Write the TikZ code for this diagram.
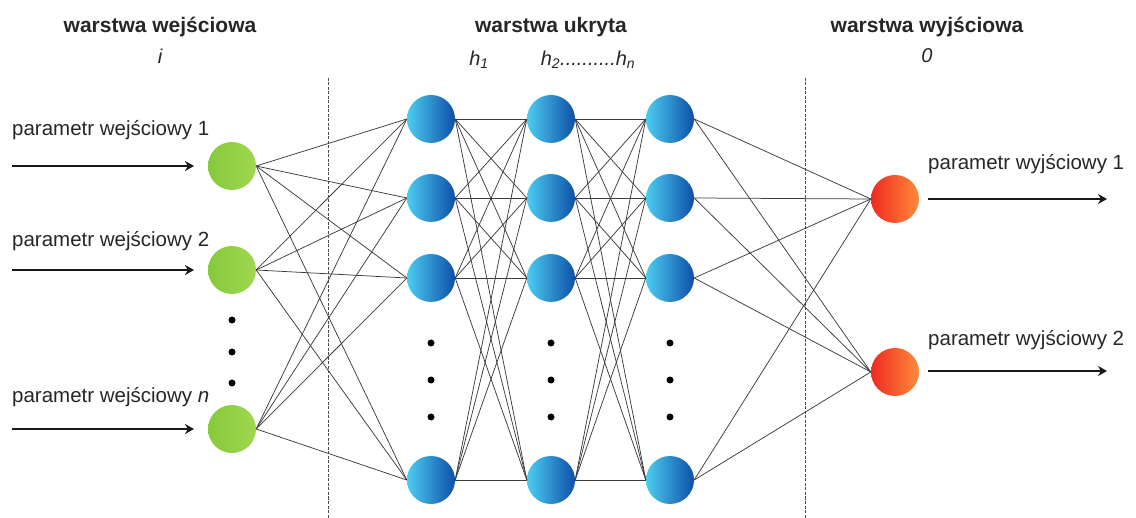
\documentclass[tikz,border=0pt]{standalone}
\usepackage{fontspec}
\setmainfont{Liberation Sans}
\usetikzlibrary{arrows.meta}
\definecolor{greenL}{HTML}{86C93C}
\definecolor{greenR}{HTML}{A0D850}
\definecolor{blueL}{HTML}{4CCDF0}
\definecolor{blueM}{HTML}{2A92D8}
\definecolor{blueR}{HTML}{0F4FA8}
\definecolor{redL}{HTML}{EE2A22}
\definecolor{redR}{HTML}{FF8A3A}
\definecolor{edgegray}{HTML}{3C3C3C}
\begin{document}
\begin{tikzpicture}[x=1pt,y=-1pt,
  neuron/.style={circle, minimum size=48pt, inner sep=0pt},
  inp/.style={neuron, left color=greenL, right color=greenR},
  hid/.style={neuron, left color=blueL, middle color=blueM, right color=blueR},
  outn/.style={neuron, left color=redL, right color=redR},
  conn/.style={draw=edgegray, line width=0.75pt},
  io/.style={line width=2.8pt, draw=black!90, -{Stealth[length=9pt,width=10pt]}},
  lbl/.style={font=\fontsize{20.5}{24}\selectfont, inner sep=0pt, text=black!85},
  ttl/.style={font=\fontsize{21}{25}\selectfont\bfseries, inner sep=0pt, text=black!85},
  sub/.style={font=\fontsize{20}{24}\selectfont\itshape, inner sep=0pt, text=black!85},
  dotn/.style={circle, fill=black, minimum size=7pt, inner sep=0pt},
  sep/.style={dashed, dash pattern=on 3pt off 1.5pt, line width=0.8pt, draw=black!70}
]
\useasboundingbox (0,0) rectangle (1136,518);

% titles
\node[ttl] (t1) at (160,27) {warstwa wejściowa};
\node[sub] (s1) at (160,56) {i};
\node[ttl] (t2) at (551,27) {warstwa ukryta};
\node[sub] (s2) at (479,60) {h\textsubscript{1}};
\node[sub] (s3) at (588,60) {h\textsubscript{2}..........h\textsubscript{n}};
\node[ttl] (t3) at (927,27) {warstwa wyjściowa};
\node[sub] (s4) at (927,56) {0};

% separators
\coordinate (d1a) at (328,78); \coordinate (d1b) at (328,518);
\coordinate (d2a) at (805,78); \coordinate (d2b) at (805,518);
\draw[sep] (d1a) -- (d1b);
\draw[sep] (d2a) -- (d2b);

% input nodes
\node[inp] (i1) at (232,166) {};
\node[inp] (i2) at (232,270) {};
\node[inp] (i3) at (232,429) {};
\node[dotn] (di1) at (232,320) {};
\node[dotn] (di2) at (232,352) {};
\node[dotn] (di3) at (232,383) {};

% hidden nodes
\foreach \c/\x in {1/431,2/551,3/670}{
  \foreach \r/\y in {1/119,2/198,3/278,4/480}{
    \node[hid] (h\c\r) at (\x,\y) {};
  }
  \node[dotn] (dh\c a) at (\x,343) {};
  \node[dotn] (dh\c b) at (\x,380) {};
  \node[dotn] (dh\c c) at (\x,417) {};
}

% output nodes
\node[outn] (o1) at (895,199) {};
\node[outn] (o2) at (895,372) {};

% connections
\foreach \a in {1,2,3}{
  \foreach \b in {1,2,3,4}{
    \draw[conn] (i\a.east) -- (h1\b.west);
  }
}
\foreach \a in {1,2,3,4}{
  \foreach \b in {1,2,3,4}{
    \draw[conn] (h1\a.east) -- (h2\b.west);
    \draw[conn] (h2\a.east) -- (h3\b.west);
  }
  \draw[conn] (h3\a.east) -- (o1.west);
  \draw[conn] (h3\a.east) -- (o2.west);
}

% input labels and arrows
\node[lbl, anchor=west] (l1) at (12,130) {parametr wejściowy 1};
\node[lbl, anchor=west] (l2) at (12,241) {parametr wejściowy 2};
\node[lbl, anchor=west] (l3) at (12,397) {parametr wejściowy \textit{n}};
\coordinate (a1s) at (12,166); \coordinate (a1e) at (194,166);
\coordinate (a2s) at (12,270); \coordinate (a2e) at (194,270);
\coordinate (a3s) at (12,429); \coordinate (a3e) at (194,429);
\draw[io] (a1s) -- (a1e);
\draw[io] (a2s) -- (a2e);
\draw[io] (a3s) -- (a3e);

% output labels and arrows
\node[lbl, anchor=west] (l4) at (928,164) {parametr wyjściowy 1};
\node[lbl, anchor=west] (l5) at (928,340) {parametr wyjściowy 2};
\coordinate (b1s) at (928,199); \coordinate (b1e) at (1107,199);
\coordinate (b2s) at (928,371); \coordinate (b2e) at (1107,371);
\draw[io] (b1s) -- (b1e);
\draw[io] (b2s) -- (b2e);
\end{tikzpicture}
\end{document}
